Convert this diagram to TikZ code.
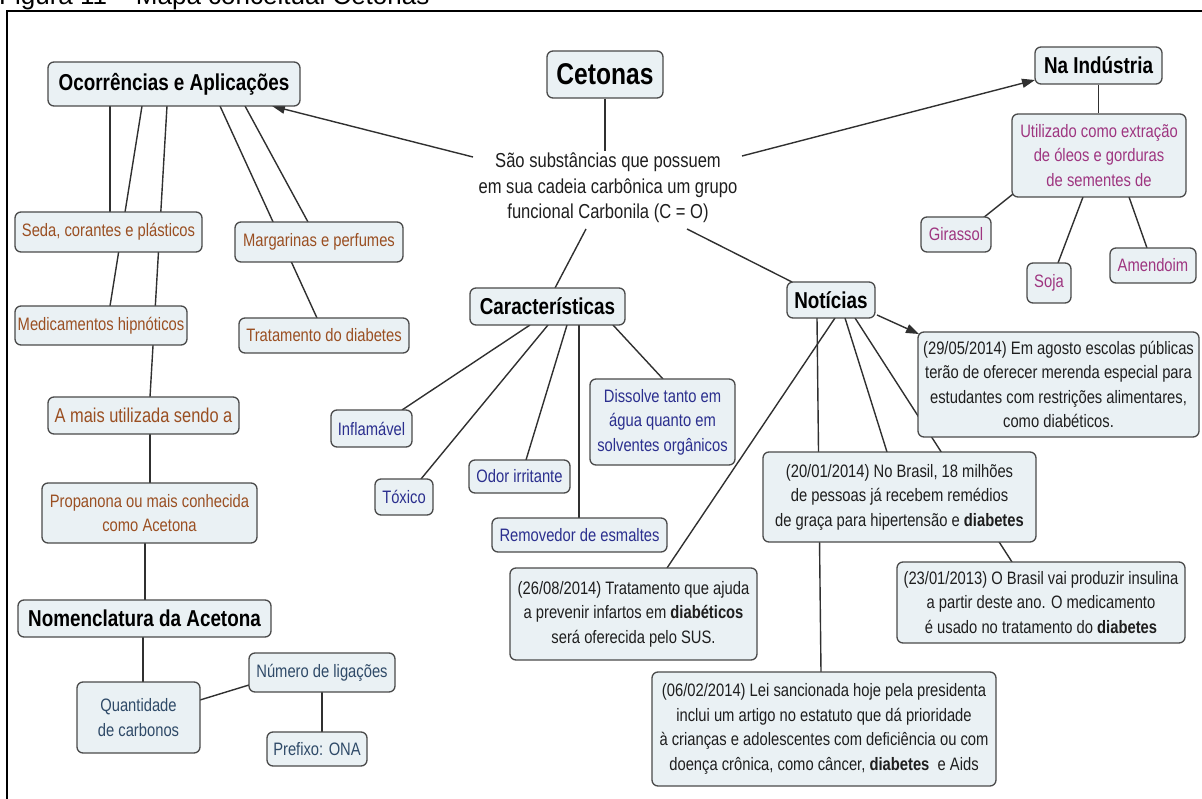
\documentclass[tikz,border=0pt]{standalone}
\usepackage{fontspec}
\setmainfont{Liberation Sans}[FakeStretch=0.82]
\newfontfamily\titlefont{Liberation Sans}
\usetikzlibrary{calc,arrows.meta,backgrounds}

\definecolor{boxfill}{HTML}{EAF1F4}
\definecolor{boxline}{HTML}{4A4A4A}
\definecolor{linegray}{HTML}{303030}
\definecolor{txtbrown}{HTML}{9A4F22}
\definecolor{txtblue}{HTML}{2B2F8E}
\definecolor{txtmagenta}{HTML}{9E3580}
\definecolor{txtslate}{HTML}{2F4A68}
\definecolor{txtdark}{HTML}{1E1E1E}

\newcommand\fHead{\fontsize{23}{27}\selectfont\bfseries}
\newcommand\fCet{\fontsize{30}{34}\selectfont\bfseries}
\newcommand\fBody{\fontsize{18}{24.5}\selectfont}
\newcommand\fBig{\fontsize{20}{24}\selectfont}
\newcommand\fCen{\fontsize{20.2}{25.5}\selectfont}

\tikzset{
  x=1pt, y=-1pt,
  box/.style={draw=boxline, fill=boxfill, rounded corners=6pt, line width=1.3pt,
              inner sep=0pt, align=center},
  head/.style={box, font=\fHead, text=black},
  brownbox/.style={box, font=\fBody, text=txtbrown},
  bluebox/.style={box, font=\fBody, text=txtblue},
  magbox/.style={box, font=\fBody, text=txtmagenta},
  slatebox/.style={box, font=\fBody, text=txtslate},
  newsbox/.style={box, font=\fBody, text=txtdark},
  link/.style={draw=linegray, line width=1.4pt},
  arr/.style={link, -{Triangle[length=13pt,width=9pt]}},
}

\begin{document}
\begin{tikzpicture}
\useasboundingbox (0,0) rectangle (1202,799);

% caption and frame
\node[anchor=base west, inner sep=0pt, font=\titlefont\fontsize{26}{30}\selectfont] (ttl) at (-1,5)
  {Figura 11 – Mapa conceitual Cetonas};
\draw[line width=2pt, black] (7,830) -- (7,11) -- (1230,11);

% centre
\node[box, font=\fCet, minimum width=116pt, minimum height=47pt] (cet) at (605,74.5) {Cetonas};
\node[fill=white, inner sep=2pt, align=center, font=\fCen, text=txtdark] (cen) at (608,188)
  {São substâncias que possuem\\em sua cadeia carbônica um grupo\\funcional Carbonila (C = O)};

% Ocorrências e Aplicações branch
\node[head, minimum width=252pt, minimum height=44pt] (oc) at (174,84) {Ocorrências e Aplicações};
\node[brownbox, minimum width=187pt, minimum height=40pt] (seda) at (108.5,232) {Seda, corantes e plásticos};
\node[brownbox, minimum width=168pt, minimum height=40pt] (marg) at (319,242) {Margarinas e perfumes};
\node[brownbox, minimum width=172pt, minimum height=39pt] (med) at (101,325.5) {Medicamentos hipnóticos};
\node[brownbox, minimum width=170pt, minimum height=35pt] (trat) at (324,335.5) {Tratamento do diabetes};
\node[box, font=\fBig, text=txtbrown, minimum width=191pt, minimum height=37pt] (amais) at (143.5,415.5) {A mais utilizada sendo a};
\node[brownbox, minimum width=215pt, minimum height=60pt] (prop) at (149.5,513) {Propanona ou mais conhecida\\como Acetona};
\node[head, minimum width=253pt, minimum height=37pt] (nom) at (144.5,618.5) {Nomenclatura da Acetona};
\node[slatebox, minimum width=123pt, minimum height=71pt] (qtd) at (138.5,717.5) {Quantidade\\de carbonos};
\node[slatebox, minimum width=146pt, minimum height=39pt] (num) at (322,672.5) {Número de ligações};
\node[slatebox, minimum width=100pt, minimum height=34pt] (pref) at (317,749) {Prefixo: ONA};

% Na Indústria branch
\node[head, minimum width=127pt, minimum height=37pt] (ind) at (1098.5,65.5) {Na Indústria};
\node[magbox, minimum width=174pt, minimum height=83pt] (util) at (1099,155.5) {Utilizado como extração\\de óleos e gorduras\\de sementes de};
\node[magbox, minimum width=70pt, minimum height=35pt] (gir) at (956,234.5) {Girassol};
\node[magbox, minimum width=44pt, minimum height=40pt] (soja) at (1049,283) {Soja};
\node[magbox, minimum width=86pt, minimum height=35pt] (amen) at (1153,265.5) {Amendoim};

% Características branch
\node[head, minimum width=155pt, minimum height=37pt] (car) at (547.5,306.5) {Características};
\node[bluebox, minimum width=81pt, minimum height=37pt] (infl) at (371.5,428.5) {Inflamável};
\node[bluebox, minimum width=58pt, minimum height=36pt] (tox) at (404,497) {Tóxico};
\node[bluebox, minimum width=101pt, minimum height=33pt] (odor) at (519.5,476.5) {Odor irritante};
\node[bluebox, minimum width=175pt, minimum height=34pt] (rem) at (579.5,535) {Removedor de esmaltes};
\node[bluebox, minimum width=145pt, minimum height=86pt] (diss) at (662.5,422) {Dissolve tanto em\\água quanto em\\solventes orgânicos};

% Notícias branch
\node[head, minimum width=88pt, minimum height=36pt] (not) at (831,300) {Notícias};
\node[newsbox, minimum width=281pt, minimum height=105pt] (n2905) at (1058.5,384.5)
  {(29/05/2014) Em agosto escolas públicas\\terão de oferecer merenda especial para\\estudantes com restrições alimentares,\\como diabéticos.};
\node[newsbox, minimum width=273pt, minimum height=90pt] (n2001) at (899.5,497)
  {(20/01/2014) No Brasil, 18 milhões\\de pessoas já recebem remédios\\de graça para hipertensão e \textbf{diabetes}};
\node[newsbox, minimum width=288pt, minimum height=81pt] (n2301) at (1041,602.5)
  {(23/01/2013) O Brasil vai produzir insulina\\a partir deste ano. O medicamento\\é usado no tratamento do \textbf{diabetes}};
\node[newsbox, minimum width=247pt, minimum height=92pt] (n2608) at (633.5,614)
  {(26/08/2014) Tratamento que ajuda\\a prevenir infartos em \textbf{diabéticos}\\será oferecida pelo SUS.};
\node[newsbox, minimum width=344pt, minimum height=114pt] (n0602) at (824,729)
  {(06/02/2014) Lei sancionada hoje pela presidenta\\inclui um artigo no estatuto que dá prioridade\\à crianças e adolescentes com deficiência ou com\\doença crônica, como câncer, \textbf{diabetes}\ \ e Aids};

% connectors, kept behind the boxes
\begin{scope}[on background layer]
  \draw[link] (cet.south) -- (cet.south |- cen.north);
  \draw[arr] ($(cen)+(-135,-31)$) -- ($(oc)+(98,22)$);
  \draw[arr] ($(cen)+(134,-32)$) -- ($(ind)+(-63.5,14.5)$);
  \draw[link] ($(cen)+(79,41)$) -- ($(not)+(-39,-18)$);
  \draw[link] ($(cen)+(-22,41)$) -- ($(car)+(7.5,-18.5)$);

  % Ocorrências e Aplicações
  \draw[link] ($(oc)+(-64,22)$) -- ($(seda)+(1.5,-20)$);
  \draw[link] ($(oc)+(-32,22)$) -- ($(med)+(9,-19.5)$);
  \draw[link] ($(oc)+(-7,22)$) -- ($(amais)+(6.5,-18.5)$);
  \draw[link] ($(oc)+(71,22)$) -- ($(marg)+(-11,-20)$);
  \draw[link] ($(oc)+(46,22)$) -- ($(trat)+(-7,-17.5)$);
  \draw[link] ($(amais)+(6.5,18.5)$) -- ($(prop)+(0.5,-30)$);
  \draw[link] ($(prop)+(-4.5,30)$) -- ($(nom)+(0.5,-18.5)$);
  \draw[link] ($(nom)+(-1.5,18.5)$) -- ($(qtd)+(4.5,-35.5)$);
  \draw[link] ($(qtd)+(61.5,-17.5)$) -- ($(num)+(-73,12.5)$);
  \draw[link] ($(num)+(0,19.5)$) -- ($(pref)+(5,-17)$);

  % Na Indústria
  \draw[link] (ind.south) -- (ind.south |- util.north);
  \draw[link] ($(util)+(-86,38.5)$) -- ($(gir)+(27,-16.5)$);
  \draw[link] ($(util)+(-16,41.5)$) -- ($(soja)+(9,-20)$);
  \draw[link] ($(util)+(30,41.5)$) -- ($(amen)+(-6,-17.5)$);

  % Características
  \draw[link] ($(car)+(-17.5,18.5)$) -- ($(infl)+(30.5,-18.5)$);
  \draw[link] ($(car)+(0.5,18.5)$) -- ($(tox)+(17,-18)$);
  \draw[link] ($(car)+(19.5,18.5)$) -- ($(odor)+(6.5,-16.5)$);
  \draw[link] ($(car)+(31.5,18.5)$) -- ($(rem)+(-0.5,-17)$);
  \draw[link] ($(car)+(65.5,18.5)$) -- ($(diss)+(0.5,-43)$);

  % Notícias
  \draw[arr] ($(not)+(46,15)$) -- ($(n2905)+(-139.5,-50.5)$);
  \draw[link] ($(not)+(4,18)$) -- ($(n2608)+(33.5,-46)$);
  \draw[link] ($(not)+(-14,18)$) -- ($(n0602)+(-3,-57)$);
  \draw[link] ($(not)+(14,18)$) -- ($(n2001)+(-12.5,-45)$);
  \draw[link] ($(not)+(24,18)$) -- ($(n2301)+(-29,-40.5)$);
\end{scope}
\end{tikzpicture}
\end{document}
